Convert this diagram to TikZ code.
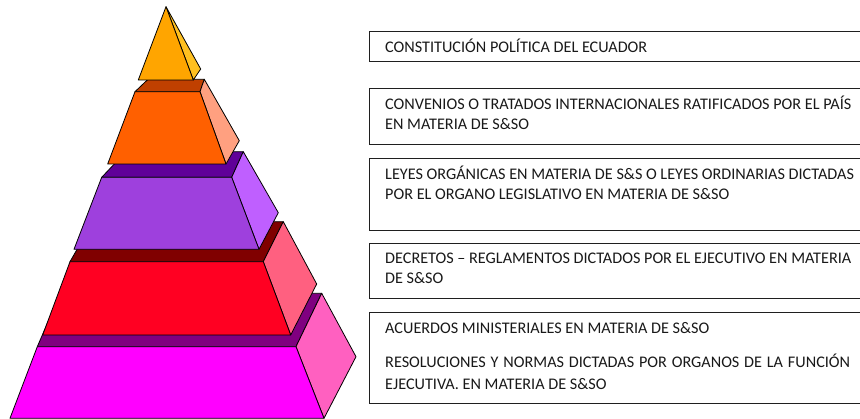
\documentclass[tikz,border=0pt]{standalone}
\usepackage{fontspec}
\setmainfont{Carlito}
\definecolor{triF}{HTML}{FFA500}
\definecolor{triS}{HTML}{FFC020}
\definecolor{orF}{HTML}{FF6000}
\definecolor{orT}{HTML}{C04000}
\definecolor{orS}{HTML}{FFA080}
\definecolor{puF}{HTML}{9E40DD}
\definecolor{puT}{HTML}{600099}
\definecolor{puS}{HTML}{BF5FFF}
\definecolor{reF}{HTML}{FF0022}
\definecolor{reT}{HTML}{800000}
\definecolor{reS}{HTML}{FF6080}
\definecolor{maF}{HTML}{FF00FF}
\definecolor{maT}{HTML}{800080}
\definecolor{maS}{HTML}{FF60C0}
\begin{document}
\begin{tikzpicture}[x=1pt,y=-1pt,
  face/.style={draw=black,line width=0.8pt,line join=round},
  tbox/.style={draw=black!88,line width=1.2pt,fill=white,anchor=north west,inner sep=0pt,minimum width=520pt},
  ltext/.style={anchor=base west,inner sep=0pt,font=\fontsize{16.2}{20}\selectfont,text=black!90}]
\useasboundingbox (0,0) rectangle (860,419);
\clip (0,0) rectangle (860,419);
% magenta tier
\filldraw[face,fill=maT] (37.3,346.7) -- (60.3,293.3) -- (321.7,293.3) -- (296,346.7) -- cycle;
\filldraw[face,fill=maS] (296,346.7) -- (321.7,293.3) -- (356,356.7) -- (324,418.3) -- cycle;
\filldraw[face,fill=maF] (37.3,346.7) -- (296,346.7) -- (324,418.3) -- (10,418.3) -- cycle;
% red tier
\filldraw[face,fill=reT] (70,261.7) -- (92.9,221.7) -- (283.3,221.7) -- (263.3,261.7) -- cycle;
\filldraw[face,fill=reS] (263.3,261.7) -- (283.3,221.7) -- (316.7,284) -- (290.7,335) -- cycle;
\filldraw[face,fill=reF] (70,261.7) -- (263.3,261.7) -- (290.7,335) -- (42.7,335) -- cycle;
% purple tier
\filldraw[face,fill=puT] (101.7,177.3) -- (126,151.7) -- (243.3,151.7) -- (231.7,177.3) -- cycle;
\filldraw[face,fill=puS] (231.7,177.3) -- (243.3,151.7) -- (278.3,212.7) -- (259,249.3) -- cycle;
\filldraw[face,fill=puF] (101.7,177.3) -- (231.7,177.3) -- (259,249.3) -- (74,249.3) -- cycle;
% orange tier
\filldraw[face,fill=orT] (135,91.7) -- (148,79.3) -- (204.3,79.3) -- (200,91.7) -- cycle;
\filldraw[face,fill=orS] (200,91.7) -- (204.3,79.3) -- (239.3,140.7) -- (226,164) -- cycle;
\filldraw[face,fill=orF] (135,91.7) -- (200,91.7) -- (226,164) -- (107.7,164) -- cycle;
% top
\filldraw[face,fill=triS] (166,6.7) -- (200.7,69) -- (193.3,80) -- cycle;
\filldraw[face,fill=triF] (166,6.7) -- (193.3,80) -- (138.3,80) -- cycle;
% boxes
\node[tbox,minimum height=30pt] (b1) at (369,31) {};
\node[tbox,minimum height=56.3pt] (b2) at (369,87.7) {};
\node[tbox,minimum height=72.3pt] (b3) at (369,157.7) {};
\node[tbox,minimum height=55.6pt] (b4) at (369,242.7) {};
\node[tbox,minimum height=91.6pt] (b5) at (369,311.7) {};
\node[ltext] (t1) at (385,52.3) {CONSTITUCIÓN POLÍTICA DEL ECUADOR};
\node[ltext] (t2a) at (385,109.3) {CONVENIOS O TRATADOS INTERNACIONALES RATIFICADOS POR EL PAÍS};
\node[ltext] (t2b) at (385,129.3) {EN MATERIA DE S\&SO};
\node[ltext] (t3a) at (385,179.3) {LEYES ORGÁNICAS EN MATERIA DE S\&S O LEYES ORDINARIAS DICTADAS};
\node[ltext] (t3b) at (385,199.3) {POR EL ORGANO LEGISLATIVO EN MATERIA DE S\&SO};
\node[ltext] (t4a) at (385,263.3) {DECRETOS – REGLAMENTOS DICTADOS POR EL EJECUTIVO EN MATERIA};
\node[ltext] (t4b) at (385,283.3) {DE S\&SO};
\node[ltext] (t5a) at (385,333.3) {ACUERDOS MINISTERIALES EN MATERIA DE S\&SO};
\node[ltext] (t5b) at (385,368) {\makebox[465pt][s]{RESOLUCIONES Y NORMAS DICTADAS POR ORGANOS DE LA FUNCIÓN}};
\node[ltext] (t5c) at (385,389.5) {EJECUTIVA. EN MATERIA DE S\&SO};
\end{tikzpicture}
\end{document}
